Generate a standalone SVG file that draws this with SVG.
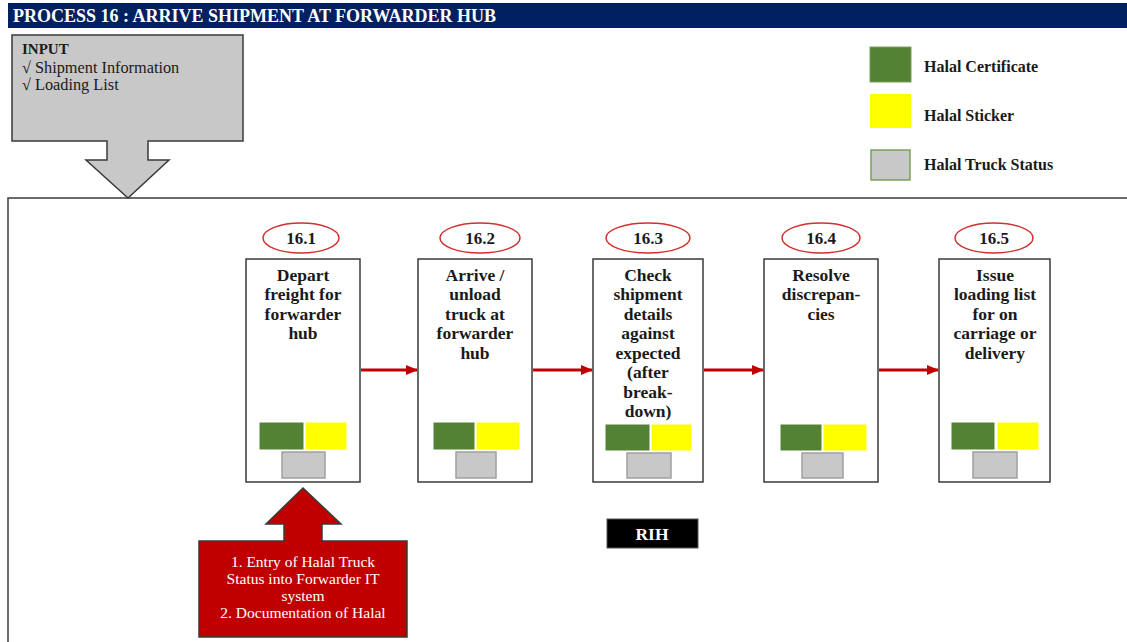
<svg xmlns="http://www.w3.org/2000/svg" width="1127" height="642" viewBox="0 0 1127 642">
<defs>
<style>
text{font-family:"Liberation Serif","DejaVu Serif",serif;}
.b{font-weight:bold;}
.step{fill:#fff;stroke:#3a3a3a;stroke-width:1.5;}
.ell{fill:#fff;stroke:#d03030;stroke-width:1.5;}
.num{font-size:17px;font-weight:bold;fill:#1a1a1a;text-anchor:middle;}
.lbl{font-size:17.5px;font-weight:bold;fill:#1a1a1a;text-anchor:middle;}
.g{fill:#548235;stroke:#fff;stroke-width:1;}
.y{fill:#ffff00;stroke:#fff;stroke-width:1;}
.gr{fill:#c8c8c8;stroke:#a0a0a0;stroke-width:1.5;}
.conn{stroke:#c00000;stroke-width:3;fill:none;marker-end:url(#ah);}
.leg{font-size:16px;font-weight:bold;fill:#1a1a1a;}
.wt{font-size:15.5px;fill:#fff;text-anchor:middle;}
</style>
<marker id="ah" markerWidth="12" markerHeight="10" refX="11" refY="5" orient="auto" markerUnits="userSpaceOnUse">
<path d="M0,0 L12,5 L0,10 Z" fill="#c00000"/>
</marker>
</defs>
<rect width="1127" height="642" fill="#fff"/>

<g id="title">
<rect x="8" y="3" width="1119" height="25" fill="#002060"/>
<text x="13" y="22" class="b" font-size="18" fill="#fff">PROCESS 16 : ARRIVE SHIPMENT AT FORWARDER HUB</text>
</g>

<g id="frame">
<path d="M1130,198 L8,198 L8,645" fill="none" stroke="#3a3a3a" stroke-width="1.5"/>
</g>

<g id="input">
<path d="M12,35 L243,35 L243,141 L148,141 L148,160 L169,160 L128,198 L86,160 L107,160 L107,141 L12,141 Z" fill="#c8c8c8" stroke="#3a3a3a" stroke-width="1.5"/>
<text x="22" y="54" class="b" font-size="15" fill="#1a1a1a">INPUT</text>
<text x="22" y="73" font-size="16.3" fill="#1a1a1a">√ Shipment Information</text>
<text x="22" y="90" font-size="16.3" fill="#1a1a1a">√ Loading List</text>
</g>

<g id="legend">
<rect x="870" y="47" width="41" height="35" fill="#548235" stroke="#7aa05a" stroke-width="1"/>
<text x="924" y="72" class="leg">Halal Certificate</text>
<rect x="870" y="94" width="41" height="34" fill="#ffff00"/>
<text x="924" y="121" class="leg">Halal Sticker</text>
<rect x="871" y="150" width="39" height="30" fill="#c8c8c8" stroke="#7aa05a" stroke-width="1.5"/>
<text x="924" y="170" class="leg">Halal Truck Status</text>
</g>

<g id="connectors">
<line x1="361" y1="370" x2="417" y2="370" class="conn"/>
<line x1="533" y1="370" x2="592" y2="370" class="conn"/>
<line x1="704" y1="370" x2="763" y2="370" class="conn"/>
<line x1="879" y1="370" x2="938" y2="370" class="conn"/>
</g>

<g id="s16_1">
<ellipse cx="301" cy="238" rx="38" ry="15" class="ell"/>
<text x="301" y="244" class="num">16.1</text>
<rect x="246" y="259" width="114" height="223" class="step"/>
<text class="lbl"><tspan x="303" y="281">Depart</tspan><tspan x="303" y="300">freight for</tspan><tspan x="303" y="320">forwarder</tspan><tspan x="303" y="339">hub</tspan></text>
<rect x="259" y="422" width="45" height="28" class="g"/>
<rect x="305" y="422" width="42" height="28" class="y"/>
<rect x="282" y="452" width="43" height="26" class="gr"/>
</g>

<g id="s16_2">
<ellipse cx="480" cy="238" rx="40" ry="15" class="ell"/>
<text x="480" y="244" class="num">16.2</text>
<rect x="418" y="259" width="114" height="223" class="step"/>
<text class="lbl"><tspan x="475" y="281">Arrive /</tspan><tspan x="475" y="300">unload</tspan><tspan x="475" y="320">truck at</tspan><tspan x="475" y="339">forwarder</tspan><tspan x="475" y="359">hub</tspan></text>
<rect x="433" y="422" width="42" height="28" class="g"/>
<rect x="476" y="422" width="44" height="28" class="y"/>
<rect x="456" y="452" width="40" height="26" class="gr"/>
</g>

<g id="s16_3">
<ellipse cx="648" cy="238" rx="42" ry="15" class="ell"/>
<text x="648" y="244" class="num">16.3</text>
<rect x="593" y="259" width="110" height="223" class="step"/>
<text class="lbl"><tspan x="648" y="281">Check</tspan><tspan x="648" y="300">shipment</tspan><tspan x="648" y="320">details</tspan><tspan x="648" y="339">against</tspan><tspan x="648" y="359">expected</tspan><tspan x="648" y="378">(after</tspan><tspan x="648" y="398">break-</tspan><tspan x="648" y="417">down)</tspan></text>
<rect x="605" y="424" width="45" height="27" class="g"/>
<rect x="651" y="424" width="41" height="27" class="y"/>
<rect x="627" y="453" width="44" height="25" class="gr"/>
</g>

<g id="s16_4">
<ellipse cx="821" cy="238" rx="39" ry="15" class="ell"/>
<text x="821" y="244" class="num">16.4</text>
<rect x="764" y="259" width="114" height="223" class="step"/>
<text class="lbl"><tspan x="821" y="281">Resolve</tspan><tspan x="821" y="300">discrepan-</tspan><tspan x="821" y="320">cies</tspan></text>
<rect x="780" y="424" width="42" height="27" class="g"/>
<rect x="823" y="424" width="44" height="27" class="y"/>
<rect x="802" y="453" width="41" height="25" class="gr"/>
</g>

<g id="s16_5">
<ellipse cx="994" cy="238" rx="39" ry="15" class="ell"/>
<text x="994" y="244" class="num">16.5</text>
<rect x="939" y="259" width="111" height="223" class="step"/>
<text class="lbl"><tspan x="995" y="281">Issue</tspan><tspan x="995" y="300">loading list</tspan><tspan x="995" y="320">for on</tspan><tspan x="995" y="339">carriage or</tspan><tspan x="995" y="359">delivery</tspan></text>
<rect x="951" y="422" width="44" height="28" class="g"/>
<rect x="997" y="422" width="42" height="28" class="y"/>
<rect x="973" y="452" width="44" height="26" class="gr"/>
</g>

<g id="rih">
<rect x="607" y="519" width="91" height="29" fill="#000" stroke="#555" stroke-width="1"/>
<text x="652" y="540" class="b" font-size="17.5" fill="#fff" text-anchor="middle">RIH</text>
</g>

<g id="halal_input">
<path d="M199,541 L284,541 L284,524 L266,524 L303,488 L341,524 L322,524 L322,541 L407,541 L407,637 L199,637 Z" fill="#c00000" stroke="#3a3a3a" stroke-width="1.5"/>
<text class="wt"><tspan x="303" y="567">1. Entry of Halal Truck</tspan><tspan x="303" y="584">Status into Forwarder IT</tspan><tspan x="303" y="601">system</tspan><tspan x="303" y="618">2. Documentation of Halal</tspan></text>
</g>
</svg>
